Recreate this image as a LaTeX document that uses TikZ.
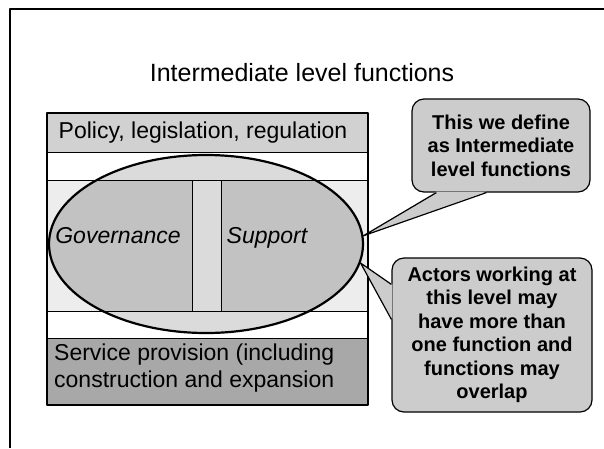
\documentclass[tikz,border=0pt]{standalone}
\usepackage{fontspec}
\setmainfont{Liberation Sans}
\usetikzlibrary{shapes.geometric}
\definecolor{policygrey}{gray}{0.82}
\definecolor{rowgrey}{gray}{0.93}
\definecolor{ringgrey}{gray}{0.86}
\definecolor{cellgrey}{gray}{0.76}
\definecolor{servicegrey}{gray}{0.66}
\definecolor{calloutgrey}{gray}{0.80}
\begin{document}
\begin{tikzpicture}[x=1pt,y=-1pt,line join=round,
  rowlabel/.style={inner sep=0pt,font=\fontsize{23}{27}\selectfont},
  cellabel/.style={inner sep=0pt,anchor=base,font=\fontsize{23}{27}\selectfont\itshape},
  callout/.style={draw,line width=1.2pt,fill=calloutgrey,rounded corners=12pt,
    align=center,inner sep=0pt,font=\fontsize{20}{23.5}\selectfont\bfseries}]
  \useasboundingbox (0,0) rectangle (604,448);
  % page frame
  \draw[line width=2.4pt] (10,448) -- (10,9) -- (604,9);
  \node (title) at (302,73) {\fontsize{25}{30}\selectfont Intermediate level functions};
  % corners of the box
  \coordinate (NW) at (47,113);
  \coordinate (SE) at (368,405);
  % row fills
  \fill[policygrey] (NW) rectangle (368,152);
  \fill[rowgrey] (47,180) rectangle (368,311);
  \fill[servicegrey] (47,338) rectangle (SE);
  \fill[ringgrey] (206,244) ellipse [x radius=157, y radius=89];
  \begin{scope}
    \clip (206,244) ellipse [x radius=157, y radius=89];
    \fill[cellgrey] (47,180) rectangle (192,311);
    \fill[cellgrey] (221,180) rectangle (368,311);
  \end{scope}
  % row and column lines
  \draw[line width=0.8pt] (47,152) -- (368,152);
  \draw[line width=0.8pt] (47,180) -- (368,180);
  \draw[line width=0.8pt] (47,311) -- (368,311);
  \draw[line width=0.8pt] (47,338) -- (368,338);
  \draw[line width=0.8pt] (192,180) -- (192,311);
  \draw[line width=0.8pt] (221,180) -- (221,311);
  \draw[line width=1.2pt] (NW) rectangle (SE);
  \node[ellipse,draw,line width=2.2pt,minimum width=314pt,minimum height=178pt,inner sep=0pt]
    (ring) at (206,244) {};
  % labels
  \node[rowlabel] (policy) at (203,133) {Policy, legislation, regulation};
  \node[cellabel] (gov) at (118,243) {Governance};
  \node[cellabel] (sup) at (267,243) {Support};
  \node[rowlabel,anchor=north west,align=left] (service) at (54,344)
    {Service provision (including\\construction and expansion};
  % callouts
  \node[callout,minimum width=178pt,minimum height=93pt] (definebox) at (501,145.5)
    {This we define\\as Intermediate\\level functions};
  \node[callout,minimum width=200pt,minimum height=154pt] (actorbox) at (492,335)
    {Actors working at\\this level may\\have more than\\one function and\\functions may\\overlap};
  \fill[calloutgrey] ([xshift=25pt,yshift=1pt]definebox.south west) -- (ring.3)
    -- ([xshift=75pt,yshift=1pt]definebox.south west) -- cycle;
  \draw[line width=1.2pt] ([xshift=25pt]definebox.south west) -- (ring.3)
    -- ([xshift=75pt]definebox.south west);
  \fill[calloutgrey] ([xshift=1pt,yshift=-27pt]actorbox.north west) -- (ring.-7)
    -- ([xshift=1pt,yshift=-62pt]actorbox.north west) -- cycle;
  \draw[line width=1.2pt] ([yshift=-27pt]actorbox.north west) -- (ring.-7)
    -- ([yshift=-62pt]actorbox.north west);
\end{tikzpicture}
\end{document}
